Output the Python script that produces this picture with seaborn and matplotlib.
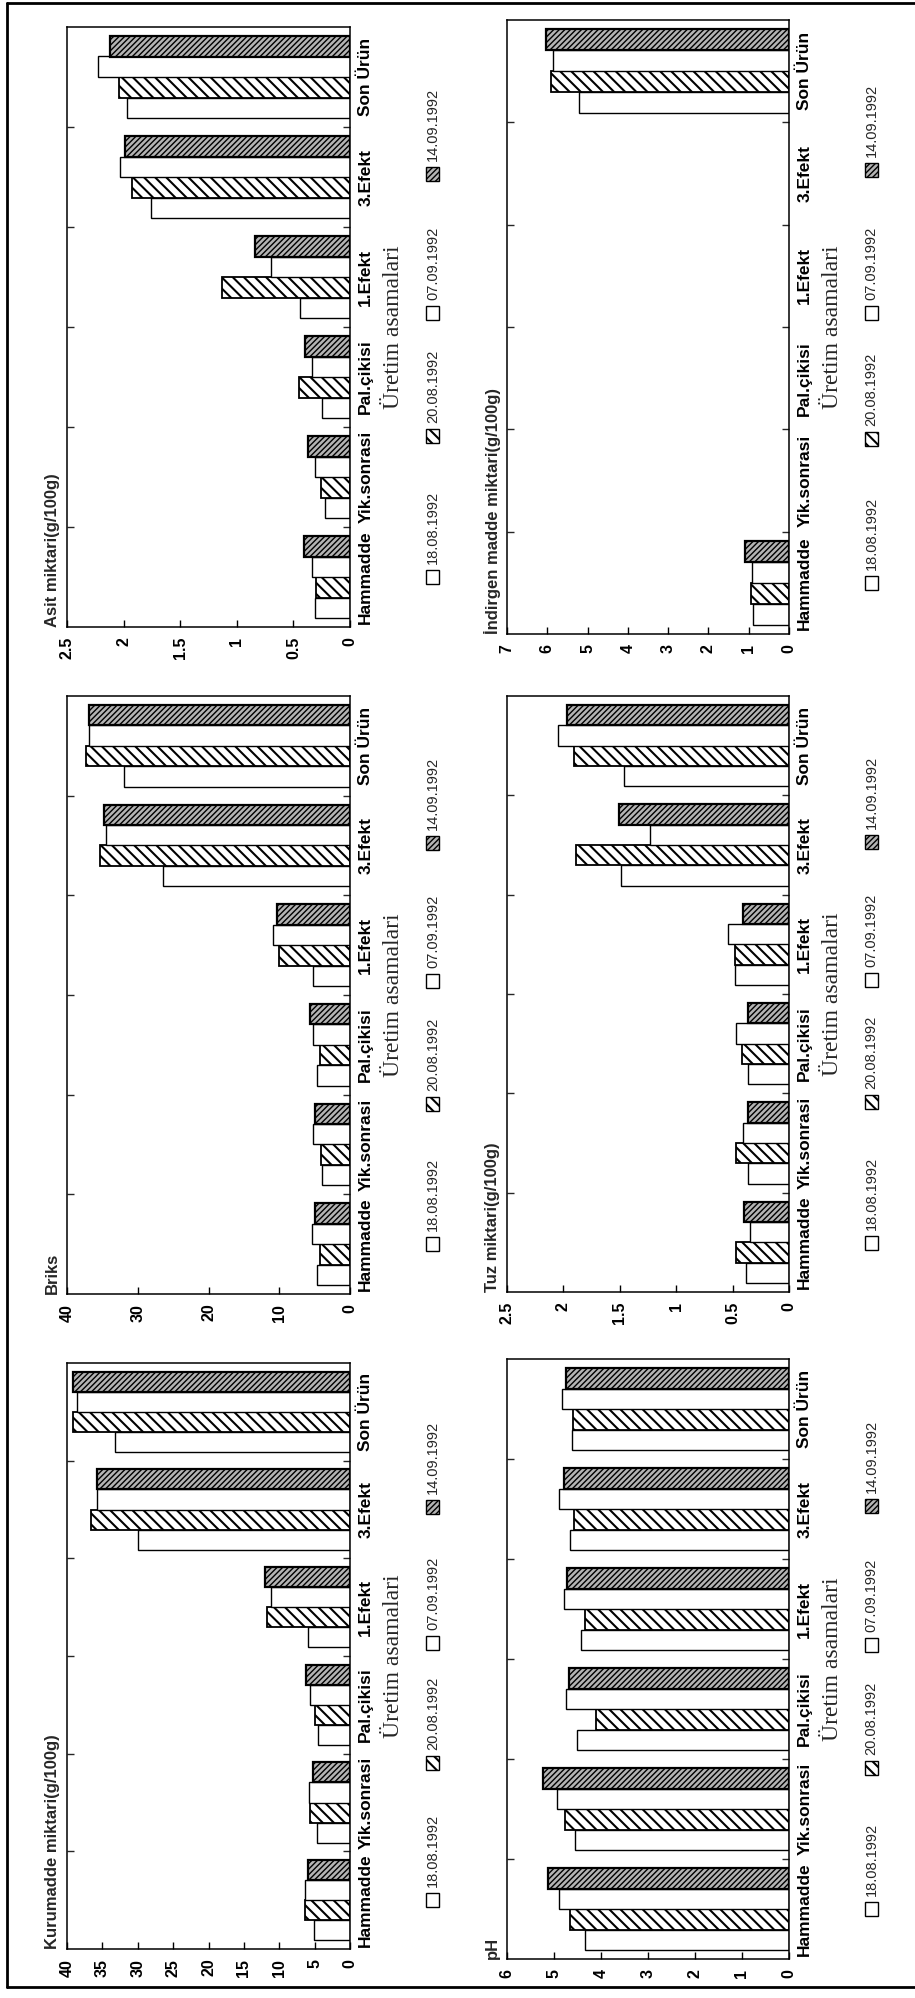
import numpy as np
import pandas as pd
import matplotlib
matplotlib.use("Agg")
import matplotlib.pyplot as plt
from matplotlib.patches import Rectangle
from matplotlib.lines import Line2D
import seaborn as sns

# ---- data -------------------------------------------------------------
stages = ["Hammadde", "Yik.sonrasi", "Pal.çikisi", "1.Efekt", "3.Efekt", "Son Ürün"]
dates = ["18.08.1992", "20.08.1992", "07.09.1992", "14.09.1992"]
nan = np.nan

# rows follow `dates`, columns follow `stages`
asit = [
    [0.31, 0.22, 0.25, 0.44, 1.76, 1.97],
    [0.30, 0.26, 0.45, 1.13, 1.93, 2.04],
    [0.34, 0.31, 0.34, 0.70, 2.03, 2.23],
    [0.41, 0.37, 0.40, 0.84, 1.99, 2.12],
]
briks = [
    [4.6, 4.0, 4.6, 5.2, 26.4, 32.0],
    [4.2, 4.1, 4.2, 10.1, 35.3, 37.3],
    [5.4, 5.2, 5.2, 10.9, 34.5, 36.9],
    [4.9, 4.9, 5.6, 10.3, 34.8, 36.9],
]
kurumadde = [
    [5.1, 4.7, 4.5, 6.0, 30.0, 33.2],
    [6.3, 5.6, 5.0, 11.7, 36.6, 39.1],
    [6.3, 5.8, 5.7, 11.1, 35.8, 38.6],
    [5.9, 5.2, 6.2, 12.0, 35.8, 39.1],
]
indirgen = [
    [0.90, nan, nan, nan, nan, 5.21],
    [0.95, nan, nan, nan, nan, 5.92],
    [0.93, nan, nan, nan, nan, 5.86],
    [1.08, nan, nan, nan, nan, 6.04],
]
tuz = [
    [0.38, 0.36, 0.36, 0.48, 1.49, 1.46],
    [0.47, 0.47, 0.42, 0.48, 1.89, 1.91],
    [0.35, 0.41, 0.47, 0.54, 1.23, 2.05],
    [0.40, 0.36, 0.36, 0.41, 1.51, 1.97],
]
ph = [
    [4.35, 4.56, 4.51, 4.42, 4.67, 4.62],
    [4.65, 4.77, 4.10, 4.33, 4.58, 4.60],
    [4.89, 4.94, 4.74, 4.78, 4.89, 4.84],
    [5.13, 5.24, 4.69, 4.72, 4.79, 4.74],
]

xlabel = "Üretim asamalari"

# ---- style ------------------------------------------------------------
sns.set_theme(style="white", rc={
    "axes.edgecolor": "black",
    "axes.linewidth": 1.1,
    "hatch.linewidth": 1.2,
    "hatch.color": "black",
})
plt.rcParams["font.family"] = ["Liberation Sans", "DejaVu Sans"]

W, H = 915, 1998
fig = plt.figure(figsize=(W / 100, H / 100), dpi=100)
fig.patch.set_facecolor("white")

faces = {"18.08.1992": "white", "20.08.1992": "white", "07.09.1992": "white", "14.09.1992": "#b4b4b4"}
hatches = {"18.08.1992": "", "20.08.1992": "\\\\\\", "07.09.1992": "", "14.09.1992": "//////"}
edge_w = {"18.08.1992": 1.0, "20.08.1992": 1.3, "07.09.1992": 1.0, "14.09.1992": 1.6}
hatch_w = {"20.08.1992": 1.5, "14.09.1992": 1.0}


def px_rect(x0, y0, x1, y1):
    """Axes rectangle from pixel edges measured from the top-left corner."""
    return [x0 / W, 1 - y1 / H, (x1 - x0) / W, (y1 - y0) / H]


panels = [
    (asit, "Asit miktari(g/100g)", 2.5, 0.5, px_rect(67, 27, 350, 627)),
    (briks, "Briks", 40, 10, px_rect(67, 696, 350, 1294)),
    (kurumadde, "Kurumadde miktari(g/100g)", 40, 5, px_rect(67, 1363, 350, 1949)),
    (indirgen, "İndirgen madde miktari(g/100g)", 7, 1, px_rect(507, 20, 789, 634)),
    (tuz, "Tuz miktari(g/100g)", 2.5, 0.5, px_rect(507, 696, 789, 1292)),
    (ph, "pH", 6, 1, px_rect(507, 1359, 789, 1959)),
]

legend_pos = [0.083, 0.318, 0.523, 0.755]


def style_bar(bar, d):
    bar.set_facecolor(faces[d])
    bar.set_hatch(hatches[d])
    bar.set_linewidth(edge_w[d])
    if d in hatch_w and hasattr(bar, "set_hatch_linewidth"):
        bar.set_hatch_linewidth(hatch_w[d])


for values, ylabel, vmax, step, rect in panels:
    df = pd.DataFrame(
        [(s, d, values[i][j]) for i, d in enumerate(dates) for j, s in enumerate(stages)],
        columns=["stage", "date", "value"],
    ).dropna()

    ax = fig.add_axes(rect)
    sns.barplot(
        data=df, x="value", y="stage", hue="date", order=stages, hue_order=dates,
        orient="h", width=0.82, palette=[faces[d] for d in dates], saturation=1,
        edgecolor="black", linewidth=1.0, errorbar=None, legend=False, ax=ax,
    )
    for d, cont in zip(dates, ax.containers):
        for bar in cont:
            style_bar(bar, d)

    # value axis runs right-to-left, stages run bottom-to-top
    ax.set_xlim(vmax, 0)
    ax.set_ylim(-0.5, len(stages) - 0.5)
    ax.set_xlabel("")
    ax.set_ylabel("")

    ticks = np.arange(0, vmax + step / 2, step)
    ax.set_xticks(ticks, labels=[f"{t:g}" for t in ticks], rotation=90,
                  ha="center", va="top", fontsize=11.5, fontweight="bold")
    ax.tick_params(axis="x", which="major", direction="in", length=5, width=1,
                   pad=7, bottom=True, top=False, colors="black")

    ax.yaxis.tick_right()
    ax.set_yticks(range(len(stages)), labels=stages, rotation=90, ha="left",
                  va="center", fontsize=12.5, fontweight="bold")
    ax.tick_params(axis="y", which="major", length=0, pad=6, colors="black")
    ax.set_yticks(np.arange(0.5, len(stages) - 0.5, 1), minor=True)
    ax.tick_params(axis="y", which="minor", direction="in", length=5, width=1,
                   left=True, right=True)

    for sp in ax.spines.values():
        sp.set_visible(True)
        sp.set_color("black")

    ax_w_px = rect[2] * W
    ax_h_px = rect[3] * H

    # axis title at the lower left, running upward
    ax.text(-12 / ax_w_px - 0.008, 0.0, ylabel, transform=ax.transAxes, rotation=90,
            ha="center", va="bottom", fontsize=12, fontweight="bold")

    # stage axis title
    ax.text(1.155, 0.5, xlabel, transform=ax.transAxes, rotation=90,
            ha="center", va="center", fontsize=17, family="Liberation Serif")

    # date key
    bw, bh = 13 / ax_w_px, 14 / ax_h_px
    xc = 1.293
    for d, b in zip(dates, legend_pos):
        key = Rectangle((xc - bw / 2, b - bh / 2), bw, bh, transform=ax.transAxes,
                        clip_on=False, edgecolor="black")
        style_bar(key, d)
        key.set_linewidth(1.0)
        ax.add_patch(key)
        ax.text(xc, b + bh / 2 + 6 / ax_h_px, d, transform=ax.transAxes, rotation=90,
                ha="center", va="bottom", fontsize=10.5)

# page frame
for xs, ys in [([7, 7], [3, 1987]), ([7, W], [3, 3]), ([7, W], [1987, 1987])]:
    fig.add_artist(Line2D([x / W for x in xs], [1 - y / H for y in ys],
                          transform=fig.transFigure, color="black", linewidth=2))

fig.savefig("out.png", dpi=100, facecolor="white")
